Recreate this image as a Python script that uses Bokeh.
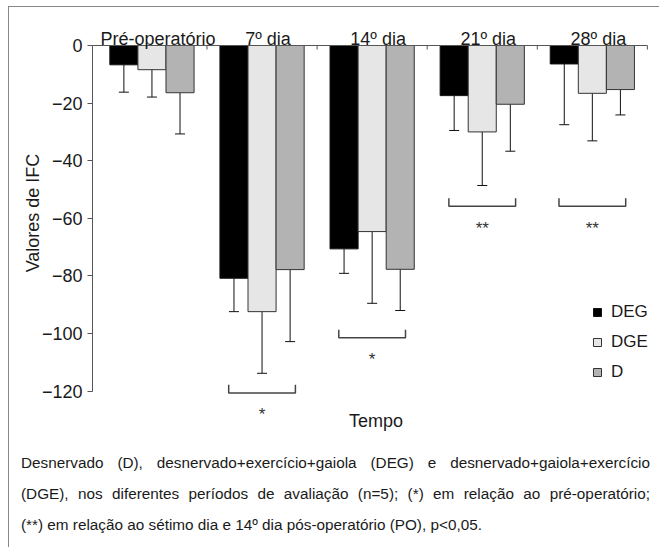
import html
from bokeh.plotting import figure
from bokeh.models import (Range1d, LinearAxis, FixedTicker, Whisker, TeeHead,
                          ColumnDataSource, Legend, LegendItem, Div)
from bokeh.layouts import column
from bokeh.core.properties import value
from bokeh.embed import file_html
from bokeh.resources import INLINE

# ---------------- data ----------------
periods = ["Pré-operatório", "7º dia", "14º dia", "21º dia", "28º dia"]
groups = ["DEG", "DGE", "D"]
deg_mean = [-6.7, -80.8, -70.6, -17.4, -6.4]
dge_mean = [-8.4, -92.4, -64.6, -30.0, -16.6]
d_mean = [-16.4, -77.8, -77.7, -20.4, -15.3]
deg_sd = [9.5, 11.6, 8.5, 12.1, 21.1]
dge_sd = [9.5, 21.4, 24.9, 18.6, 16.5]
d_sd = [14.3, 25.0, 14.3, 16.3, 8.8]
y_ticks = [0, -20, -40, -60, -80, -100, -120]
sig_periods = ["7º dia", "14º dia", "21º dia", "28º dia"]
sig_level = [-120.6, -101.5, -55.8, -55.8]
sig_marks = ["*", "*", "**", "**"]
caption_lines = [
    "Desnervado (D), desnervado+exercício+gaiola (DEG) e desnervado+gaiola+exercício",
    "(DGE), nos diferentes períodos de avaliação (n=5); (*) em relação ao pré-operatório;",
    "(**) em relação ao sétimo dia e 14º dia pós-operatório (PO), p<0,05.",
]

# ---------------- style ----------------
FONT = "Liberation Sans"
TXT = "#1a1a1a"
AX = "#555555"
colors = ["#000000", "#e6e6e6", "#b3b3b3"]
outlines = ["#111111", "#333333", "#333333"]
bar_w = 0.255
n = len(periods)
x_lo = -0.04

p = figure(width=650, height=431,
           x_range=Range1d(x_lo, 5.11), y_range=Range1d(-128.8, 12.5),
           output_backend="svg", toolbar_location=None,
           x_axis_location=None,
           min_border_top=2, min_border_left=83, min_border_right=0,
           min_border_bottom=22)
p.xgrid.visible = False
p.ygrid.visible = False
p.outline_line_color = None

# y axis
ya = p.yaxis[0]
ya.ticker = FixedTicker(ticks=y_ticks)
ya.bounds = (min(y_ticks), max(y_ticks))
ya.major_tick_out = 5
ya.major_tick_in = 0
ya.minor_tick_line_color = None
ya.axis_line_color = AX
ya.major_tick_line_color = AX
ya.major_label_text_font = FONT
ya.major_label_text_font_size = "18px"
ya.major_label_text_color = TXT
ya.major_label_standoff = 5
ya.axis_label = "Valores de IFC"
ya.axis_label_text_font = FONT
ya.axis_label_text_font_size = "18px"
ya.axis_label_text_font_style = "normal"
ya.axis_label_text_color = TXT
ya.axis_label_standoff = -4

# bottom axis carrying only the title "Tempo"
xa = LinearAxis(ticker=FixedTicker(ticks=[]), axis_line_color=None,
                major_tick_line_color=None, minor_tick_line_color=None,
                major_label_text_font_size="0px",
                axis_label="Tempo", axis_label_text_font=FONT,
                axis_label_text_font_size="18px", axis_label_text_font_style="normal",
                axis_label_text_color=TXT, axis_label_standoff=-6)
p.add_layout(xa, "below")

# bars + error bars
means = [deg_mean, dge_mean, d_mean]
sds = [deg_sd, dge_sd, d_sd]
renderers = []
for j, g in enumerate(groups):
    off = (j - 1) * bar_w
    xs = [i + 0.5 + off for i in range(n)]
    src = ColumnDataSource(dict(x=xs, m=means[j],
                                low=[m - s for m, s in zip(means[j], sds[j])]))
    r = p.vbar(x="x", top=0, bottom="m", width=bar_w, source=src,
               fill_color=colors[j], line_color=outlines[j], line_width=1)
    renderers.append(r)
    p.add_layout(Whisker(base="x", upper="m", lower="low", source=src,
                         line_color="#111111", line_width=1,
                         upper_head=None,
                         lower_head=TeeHead(size=10, line_color="#111111", line_width=1)))

# zero line (top category axis) and boundary ticks
p.segment(x0=[x_lo], y0=[0], x1=[n], y1=[0], line_color=AX, line_width=1)
p.segment(x0=list(range(1, n + 1)), y0=[0] * n, x1=list(range(1, n + 1)), y1=[-1.4] * n,
          line_color=AX, line_width=1)

# period labels above the zero line
p.text(x=[i + 0.5 for i in range(n)], y=[0] * n, text=periods,
       x_offset=6, y_offset=-7, text_align="center", text_baseline="alphabetic",
       text_font=value(FONT), text_font_size="18px", text_color=TXT)

# significance brackets
hw, hh = 0.303, 2.8
bx, by = [], []
for per, lvl in zip(sig_periods, sig_level):
    c = periods.index(per) + 0.5
    bx.append([c - hw, c - hw, c + hw, c + hw])
    by.append([lvl + hh, lvl, lvl, lvl + hh])
p.multi_line(xs=bx, ys=by, line_color="#444444", line_width=1.5)
p.text(x=[periods.index(s) + 0.5 for s in sig_periods], y=sig_level, text=sig_marks,
       y_offset=22, text_align="center", text_baseline="middle",
       text_font=value(FONT), text_font_size="17px", text_color="#333333")

legend = Legend(items=[LegendItem(label=g, renderers=[r]) for g, r in zip(groups, renderers)],
                location=(500, 34), glyph_width=10, glyph_height=10,
                label_text_font=FONT, label_text_font_size="17px", label_text_color=TXT,
                label_standoff=9, spacing=10, padding=0, margin=0,
                border_line_color=None, background_fill_alpha=0)
p.add_layout(legend)

# caption
rows = []
for k, line in enumerate(caption_lines):
    last = "justify" if k < len(caption_lines) - 1 else "left"
    rows.append(f'<div style="text-align:justify;text-align-last:{last};white-space:nowrap">'
                f'{html.escape(line)}</div>')
caption_html = (f'<div style="font-family:\'{FONT}\';font-size:15.3px;line-height:31px;'
                f'color:{TXT};padding:9px 9px 0 12px;width:650px;box-sizing:border-box">'
                + "".join(rows) + "</div>")
div = Div(text=caption_html, width=650, height=109, margin=(0, 0, 0, 0))

layout = column(p, div, styles={"border-left": "1px solid #888888",
                                "border-top": "1px solid #888888",
                                "margin-left": "8px", "margin-top": "6px"})

open("out.html", "w").write(file_html(layout, INLINE))
